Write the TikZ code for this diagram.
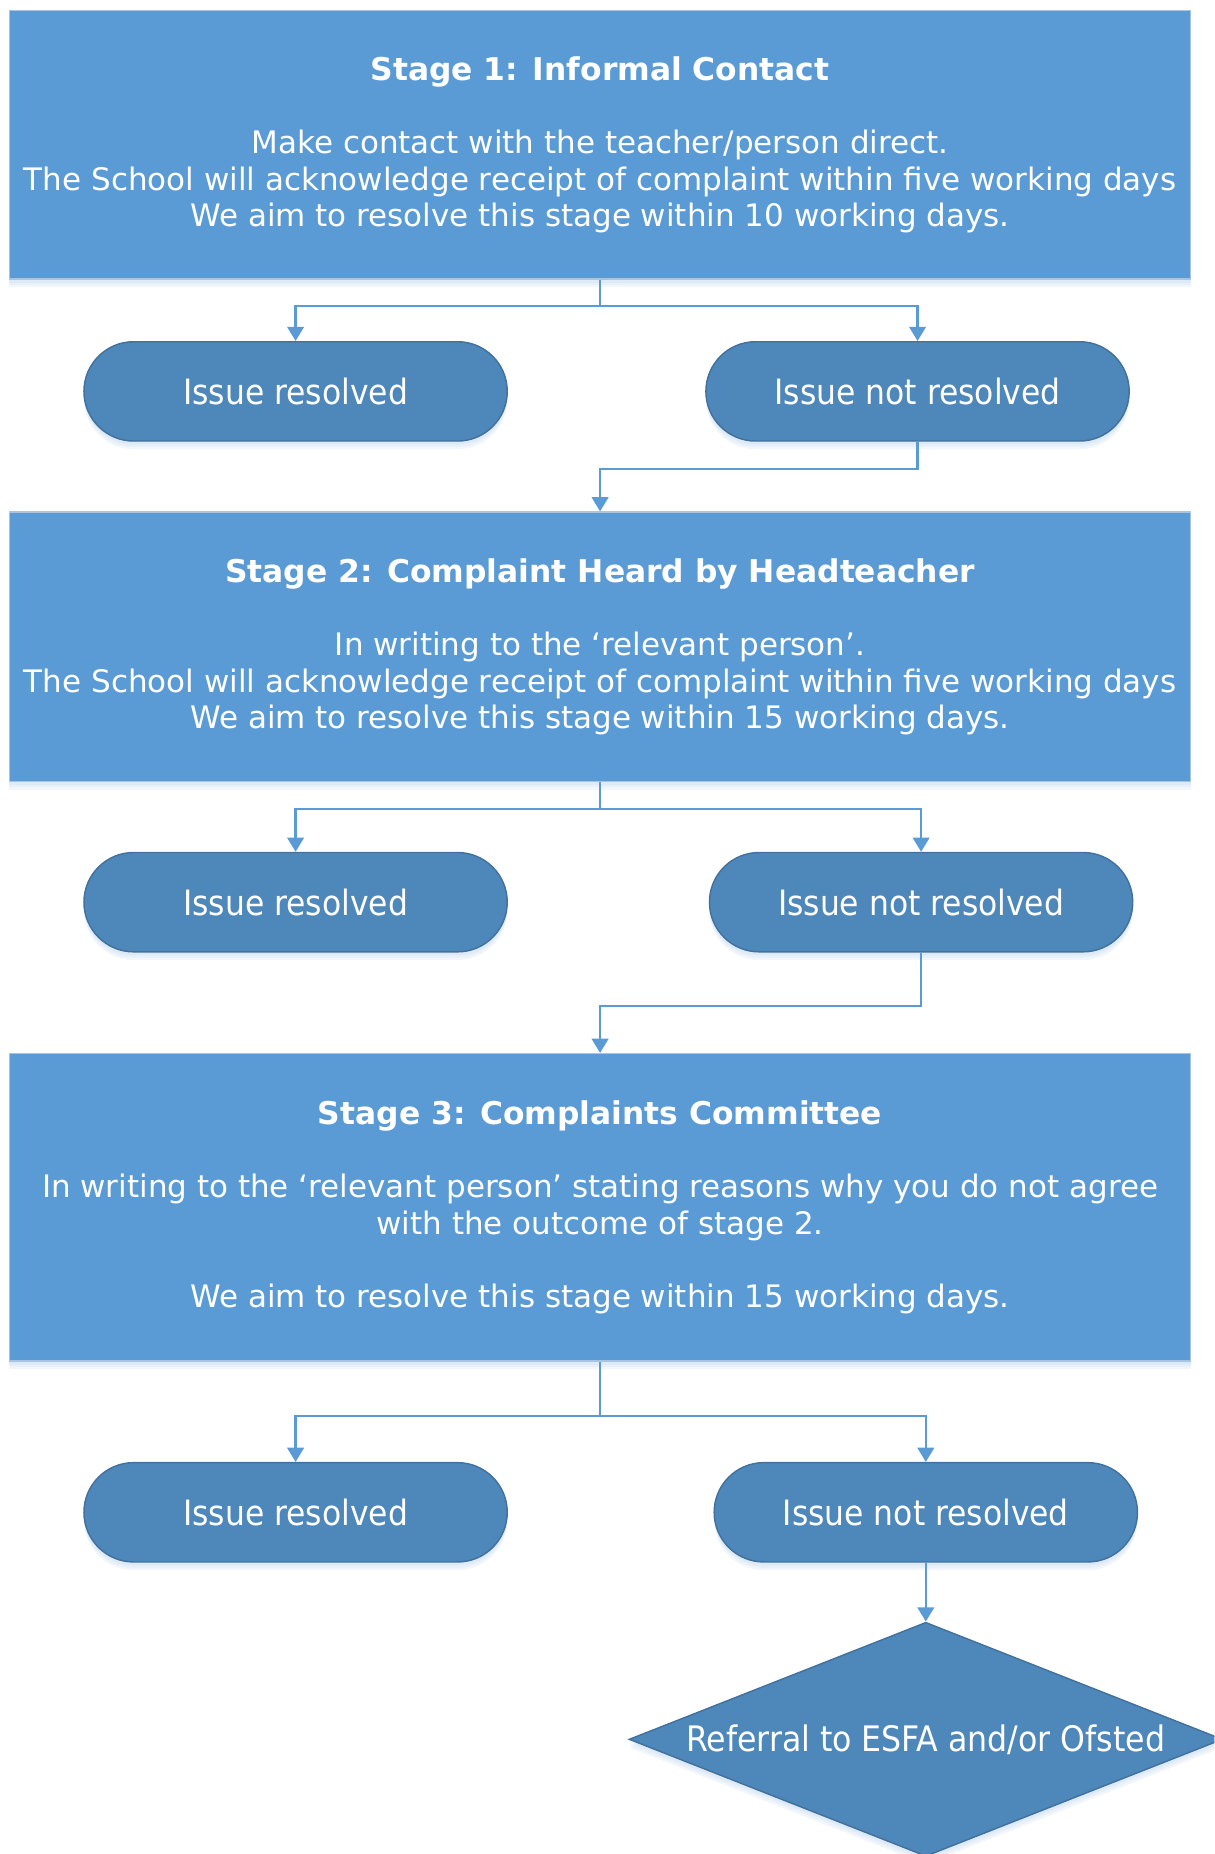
\documentclass[tikz,border=0pt]{standalone}
\usepackage{fontspec}
\setmainfont{DejaVu Sans}
\newfontfamily\condfont{DejaVu Sans Condensed}
\usetikzlibrary{arrows.meta,shapes.geometric}
\definecolor{boxblue}{HTML}{5B9BD5}
\definecolor{boxedge}{HTML}{A9C4E2}
\definecolor{pillblue}{HTML}{4E87BA}
\definecolor{pilledge}{HTML}{41719C}
\definecolor{lineblue}{HTML}{5B9BD5}
\tikzset{
  softshadow/.style={
    preaction={fill=boxblue, opacity=0.07, transform canvas={yshift=-7pt}},
    preaction={fill=boxblue, opacity=0.07, transform canvas={yshift=-5pt}},
    preaction={fill=boxblue, opacity=0.07, transform canvas={yshift=-3pt}}},
  stagebox/.style={draw=boxedge, line width=1pt, fill=boxblue, minimum width=999pt,
    text=white, align=center, inner sep=0pt,
    font=\fontsize{26.2}{31}\selectfont, softshadow},
  pill/.style={draw=pilledge, line width=1.2pt, fill=pillblue, rounded corners=42pt,
    minimum width=358pt, minimum height=84pt, text=white, inner sep=0pt,
    font=\condfont\fontsize{29.5}{35}\selectfont, softshadow},
  conn/.style={draw=lineblue, line width=1.9pt, -{Triangle[width=14pt,length=12pt]}},
}
\newcommand{\stitle}[1]{{\fontsize{26.5}{31}\selectfont\bfseries #1}}
\begin{document}
\begin{tikzpicture}[x=1pt,y=-1pt]
\useasboundingbox (0,0) rectangle (1027,1568);
\clip (0,0) rectangle (1027,1568);
\fill[white] (0,0) rectangle (1027,1568);

\node[stagebox, minimum height=227pt] (s1) at (507.5,122.5)
  {\stitle{Stage 1: Informal Contact}\\[31pt]
   Make contact with the teacher/person direct.\\
   The School will acknowledge receipt of complaint within five working days\\
   We aim to resolve this stage within 10 working days.};

\node[pill] (l1) at (250,331) {Issue resolved};
\node[pill] (r1) at (776,331) {Issue not resolved};

\node[stagebox, minimum height=228pt] (s2) at (507.5,547)
  {\stitle{Stage 2: Complaint Heard by Headteacher}\\[31pt]
   In writing to the ‘relevant person’.\\
   The School will acknowledge receipt of complaint within five working days\\
   We aim to resolve this stage within 15 working days.};

\node[pill] (l2) at (250,763) {Issue resolved};
\node[pill] (r2) at (779,763) {Issue not resolved};

\node[stagebox, minimum height=260pt] (s3) at (507.5,1021)
  {\stitle{Stage 3: Complaints Committee}\\[31pt]
   In writing to the ‘relevant person’ stating reasons why you do not agree\\
   with the outcome of stage 2.\\[31pt]
   We aim to resolve this stage within 15 working days.};

\node[pill] (l3) at (250,1279) {Issue resolved};
\node[pill] (r3) at (783,1279) {Issue not resolved};

\node[diamond, draw=pilledge, line width=1.2pt, fill=pillblue, inner sep=0pt,
      minimum width=502pt, minimum height=198pt, softshadow]
      (ref) at (783,1471) {};
\node[text=white, font=\condfont\fontsize{29.7}{35}\selectfont] (reft) at (ref.center) {Referral to ESFA and/or Ofsted};

\draw[conn] (s1.south) -- ++(0,22) -| (l1.north);
\draw[conn] (s1.south) -- ++(0,22) -| (r1.north);
\draw[conn] (r1.south) -- ++(0,23) -| (s2.north);

\draw[conn] (s2.south) -- ++(0,23) -| (l2.north);
\draw[conn] (s2.south) -- ++(0,23) -| (r2.north);
\draw[conn] (r2.south) -- ++(0,45) -| (s3.north);

\draw[conn] (s3.south) -- ++(0,46) -| (l3.north);
\draw[conn] (s3.south) -- ++(0,46) -| (r3.north);
\draw[conn] (r3.south) -- (ref.north);
\end{tikzpicture}
\end{document}
